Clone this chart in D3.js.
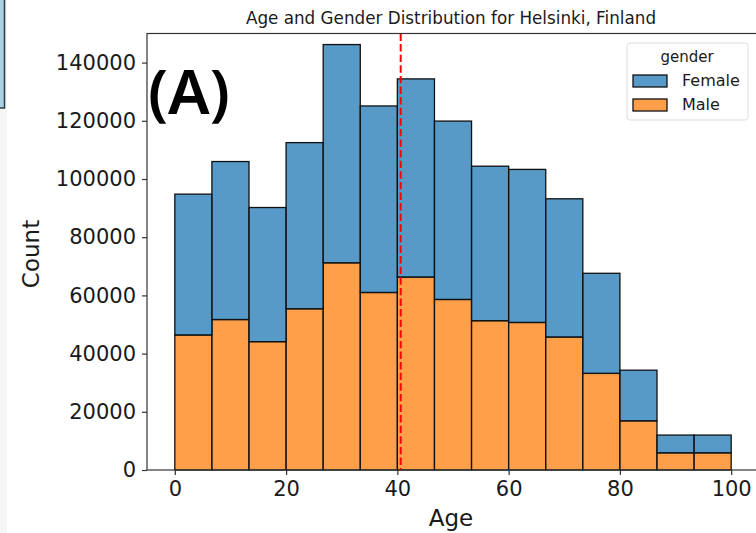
<!DOCTYPE html>
<html>
<head>
<meta charset="utf-8">
<script src="https://cdn.jsdelivr.net/npm/d3@7"></script>
<style>
  body { margin: 0; background: #fff; }
  svg { display: block; font-family: "DejaVu Sans", sans-serif; }
</style>
</head>
<body>
<svg id="chart" width="756" height="533"></svg>
<script>
// histogram bins (age), 15 equal bins from 0 to 100
var binEdges = d3.range(16).map(function(i){ return i * 100 / 15; });
var femaleCounts = [48400, 54300, 46100, 57100, 75000, 64100, 68100, 61300, 53100, 52600, 47500, 34400, 17400, 6100, 6100];
var maleCounts   = [46400, 51700, 44100, 55400, 71200, 61000, 66300, 58600, 51300, 50700, 45700, 33200, 16900, 5900, 5900];
var meanAge = 40.6;
var xTicks = [0, 20, 40, 60, 80, 100];
var yTicks = [0, 20000, 40000, 60000, 80000, 100000, 120000, 140000];
var genders = ["Female", "Male"];
var colors = { Female: "#1f77b4", Male: "#ff7f0e" };

var svg = d3.select("#chart");

// bits of the neighbouring panel on the left edge
svg.append("rect").attr("x", 0).attr("y", 0).attr("width", 7).attr("height", 533).attr("fill", "#f6f6f6");
svg.append("rect").attr("x", -2).attr("y", -2).attr("width", 6.5).attr("height", 110)
    .attr("fill", "#a9d3e3").attr("stroke", "#2e3b44").attr("stroke-width", 1.5);

var x = d3.scaleLinear().domain([-5, 105]).range([147, 759]);
var y = d3.scaleLinear().domain([0, 150000]).range([470, 33.5]);

var rows = binEdges.slice(0, -1).map(function(e, i){
    return { x0: e, x1: binEdges[i + 1], Male: maleCounts[i], Female: femaleCounts[i] };
});
// male on the bottom, female stacked on top
var stack = d3.stack().keys(["Male", "Female"])(rows);

var g = svg.append("g");
stack.forEach(function(layer){
    g.selectAll(null).data(layer).enter().append("rect")
        .attr("x", function(d){ return x(d.data.x0); })
        .attr("width", function(d){ return x(d.data.x1) - x(d.data.x0); })
        .attr("y", function(d){ return y(d[1]); })
        .attr("height", function(d){ return y(d[0]) - y(d[1]); })
        .attr("fill", colors[layer.key]).attr("fill-opacity", 0.75)
        .attr("stroke", "#111").attr("stroke-width", 1.3);
});

// mean line
svg.append("line")
    .attr("x1", x(meanAge)).attr("x2", x(meanAge))
    .attr("y1", y(150000)).attr("y2", y(0))
    .attr("stroke", "#ff0000").attr("stroke-width", 2)
    .attr("stroke-dasharray", "7.4,3.2");

// spines
svg.append("rect").attr("x", 147).attr("y", 33.5).attr("width", 612).attr("height", 436.5)
    .attr("fill", "none").attr("stroke", "#333").attr("stroke-width", 1.2);

var xAxis = svg.append("g").attr("transform", "translate(0,470)")
    .call(d3.axisBottom(x).tickValues(xTicks).tickSize(5).tickPadding(6).tickFormat(d3.format("d")));
var yAxis = svg.append("g").attr("transform", "translate(147,0)")
    .call(d3.axisLeft(y).tickValues(yTicks).tickSize(5).tickPadding(6).tickFormat(d3.format("d")));
[xAxis, yAxis].forEach(function(a){
    a.select(".domain").remove();
    a.selectAll("line").attr("stroke", "#333").attr("stroke-width", 1.2);
    a.selectAll("text").attr("fill", "#1a1a1a").style("font-size", "21px")
        .style("font-family", "'DejaVu Sans', sans-serif");
});

svg.append("text").attr("x", 451).attr("y", 24).attr("text-anchor", "middle")
    .style("font-size", "16.8px").attr("fill", "#1a1a1a")
    .text("Age and Gender Distribution for Helsinki, Finland");

svg.append("text").attr("x", 451).attr("y", 526).attr("text-anchor", "middle")
    .style("font-size", "23px").attr("fill", "#1a1a1a").text("Age");

svg.append("text").attr("transform", "translate(39,254) rotate(-90)").attr("text-anchor", "middle")
    .style("font-size", "23px").attr("fill", "#1a1a1a").text("Count");

svg.append("text").attr("x", 148).attr("y", 114)
    .style("font-family", "'Noto Sans', 'Open Sans', sans-serif")
    .style("font-size", "62px").style("font-weight", "600").attr("fill", "#000").text("(A)");

// legend
var lg = svg.append("g");
lg.append("rect").attr("x", 627).attr("y", 43).attr("width", 121).attr("height", 77).attr("rx", 3)
    .attr("fill", "#fff").attr("fill-opacity", 0.8).attr("stroke", "#ddd").attr("stroke-width", 1);
lg.append("text").attr("x", 687).attr("y", 62).attr("text-anchor", "middle")
    .style("font-size", "15px").attr("fill", "#1a1a1a").text("gender");
genders.forEach(function(k, i){
    var yy = 75 + i * 24;
    lg.append("rect").attr("x", 633).attr("y", yy).attr("width", 34).attr("height", 12)
        .attr("fill", colors[k]).attr("fill-opacity", 0.75).attr("stroke", "#111").attr("stroke-width", 1.3);
    lg.append("text").attr("x", 682).attr("y", yy + 11).style("font-size", "16px")
        .attr("fill", "#1a1a1a").text(k);
});
</script>
</body>
</html>
